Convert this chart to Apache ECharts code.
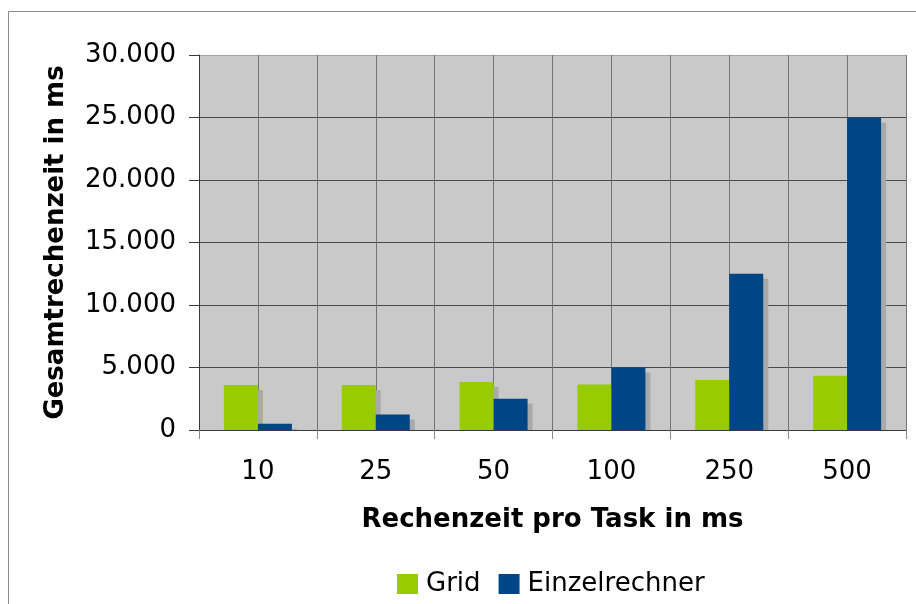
<!DOCTYPE html>
<html>
<head>
<meta charset="utf-8">
<script src="https://cdn.jsdelivr.net/npm/echarts@6/dist/echarts.min.js"></script>
<style>
  html, body { margin: 0; padding: 0; background: #fff; }
  #chart { width: 916px; height: 604px; }
</style>
</head>
<body>
<div id="chart"></div>
<script>
// Rechenzeit pro Task (ms) and total runtime for both setups
const categories = ['10', '25', '50', '100', '250', '500'];
const gridValues = [3600, 3600, 3850, 3650, 4000, 4350];
const einzelValues = [500, 1250, 2500, 5000, 12500, 25000];
const seriesNames = ['Grid', 'Einzelrechner'];
const yTicks = [0, 5000, 10000, 15000, 20000, 25000, 30000];

// half-category bands, used only for the finer vertical grid
const halfBands = categories.flatMap(c => [c + 'a', c + 'b']);

const FONT = 'DejaVu Sans';
const BAR_W = 34;
const SHADOW = 5;

function deFormat(v) {
  return String(v).replace(/\B(?=(\d{3})+(?!\d))/g, '.');
}

// drop shadow behind each bar, clipped at the baseline
function shadowRenderer(seriesIdx) {
  return function (params, api) {
    const cat = api.value(0);
    const val = api.value(1);
    const top = api.coord([cat, val]);
    const base = api.coord([cat, 0]);
    const left = top[0] + (seriesIdx === 0 ? -BAR_W : 0) + SHADOW;
    const h = Math.max(0, base[1] - top[1] - SHADOW);
    return {
      type: 'rect',
      shape: { x: left, y: top[1] + SHADOW, width: BAR_W, height: h },
      style: { fill: '#a9a9a9' }
    };
  };
}

const chart = echarts.init(document.getElementById('chart'), null, { renderer: 'canvas' });

chart.setOption({
  backgroundColor: '#ffffff',
  animation: false,
  textStyle: { fontFamily: FONT },
  graphic: [{
    type: 'rect',
    shape: { x: 8.5, y: 11.5, width: 1200, height: 1200 },
    style: { fill: 'none', stroke: '#8c8c8c', lineWidth: 1 },
    silent: true
  }],
  grid: {
    left: 199, top: 55, width: 707, height: 375,
    show: true, backgroundColor: '#c9c9c9', borderWidth: 0
  },
  legend: {
    data: seriesNames,
    left: 397, top: 571, padding: 0,
    icon: 'rect', itemWidth: 21, itemHeight: 20, itemGap: 18,
    textStyle: { fontFamily: FONT, fontSize: 26, color: '#000', lineHeight: 26, padding: [0, 0, 0, 3] }
  },
  xAxis: [{
    type: 'category',
    data: categories,
    position: 'bottom',
    name: 'Rechenzeit pro Task in ms',
    nameLocation: 'middle',
    nameGap: 77,
    nameTextStyle: { fontFamily: FONT, fontSize: 26, fontWeight: 'bold', color: '#000' },
    axisLine: { show: true, lineStyle: { color: '#3a3a3a', width: 1 } },
    axisTick: { show: true, length: 9, lineStyle: { color: '#8a8a8a' } },
    axisLabel: { fontFamily: FONT, fontSize: 26, color: '#000', margin: 29 },
    splitLine: { show: false }
  }, {
    type: 'category',
    data: halfBands,
    position: 'bottom',
    axisLine: { show: false },
    axisTick: { show: false },
    axisLabel: { show: false },
    splitLine: { show: true, lineStyle: { color: '#747474', width: 1 } }
  }],
  yAxis: {
    type: 'value',
    min: yTicks[0],
    max: yTicks[yTicks.length - 1],
    interval: yTicks[1] - yTicks[0],
    name: 'Gesamtrechenzeit in ms',
    nameLocation: 'middle',
    nameGap: 130,
    nameTextStyle: { fontFamily: FONT, fontSize: 26, fontWeight: 'bold', color: '#000' },
    axisLine: { show: true, lineStyle: { color: '#3a3a3a', width: 1 } },
    axisTick: { show: true, length: 10, lineStyle: { color: '#3a3a3a' } },
    axisLabel: { fontFamily: FONT, fontSize: 26, color: '#000', margin: 23, formatter: deFormat },
    splitLine: {
      show: true,
      lineStyle: { color: ['#4a4a4a', '#4a4a4a', '#4a4a4a', '#4a4a4a', '#4a4a4a', '#4a4a4a', '#a4a4a4'], width: 1 }
    }
  },
  series: [
    {
      type: 'custom', name: 'shadowGrid', xAxisIndex: 0, z: 1,
      renderItem: shadowRenderer(0), silent: true, legendHoverLink: false,
      data: gridValues.map((v, i) => [i, v])
    },
    {
      type: 'custom', name: 'shadowEinzel', xAxisIndex: 0, z: 1,
      renderItem: shadowRenderer(1), silent: true, legendHoverLink: false,
      data: einzelValues.map((v, i) => [i, v])
    },
    {
      name: seriesNames[0], type: 'bar', xAxisIndex: 0, z: 3,
      barWidth: BAR_W, barGap: '0%',
      itemStyle: { color: '#99cc00' },
      data: gridValues
    },
    {
      name: seriesNames[1], type: 'bar', xAxisIndex: 0, z: 4,
      barWidth: BAR_W, barGap: '0%',
      itemStyle: { color: '#004586' },
      data: einzelValues
    }
  ]
});
</script>
</body>
</html>
